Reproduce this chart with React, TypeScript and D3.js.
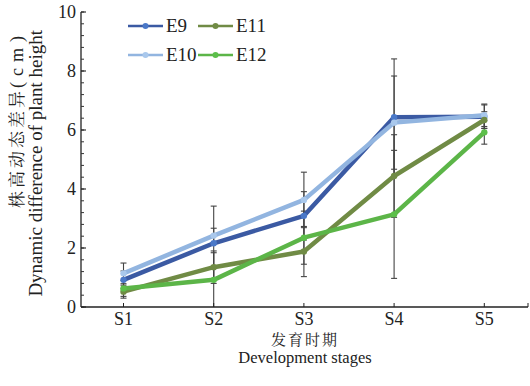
import React from "react";
import * as d3 from "d3";

const stages = ["S1", "S2", "S3", "S4", "S5"];
const seriesNames = ["E9", "E10", "E11", "E12"];
const e9 = [0.92, 2.16, 3.09, 6.43, 6.45];
const e10 = [1.14, 2.42, 3.63, 6.25, 6.5];
const e11 = [0.52, 1.35, 1.88, 4.44, 6.34];
const e12 = [0.63, 0.92, 2.35, 3.14, 5.92];
const e9Err = [0.3, 1.26, 0.82, 1.98, 0.4];
const e10Err = [0.35, 0.25, 0.94, 1.58, 0.38];
const e11Err = [0.22, 0.55, 0.85, 1.4, 0.28];
const e12Err = [0.27, 0.92, 0.9, 2.17, 0.4];
const yTicks = [0, 2, 4, 6, 8, 10];

const lineColors = ["#3b5aa3", "#92b5e0", "#708b45", "#5cb548"];
const markerColors = ["#4a78c8", "#a9c8ec", "#708b45", "#5cbf4a"];

const W = 530;
const H = 386;
const left = 81;
const right = 528;
const top = 12;
const bottom = 307;

const serifStyle = { fontFamily: "'Liberation Serif', 'Times New Roman', Times, serif" };
const cjkStyle = { fontFamily: "'Noto Serif CJK SC', 'Noto Sans CJK SC', sans-serif" };

export default function App() {
  const values = [e9, e10, e11, e12];
  const errs = [e9Err, e10Err, e11Err, e12Err];
  const x = d3.scaleLinear().domain([1, 5]).range([123.5, 484.3]);
  const y = d3.scaleLinear().domain([0, 10]).range([bottom, top]);
  const line = d3
    .line<number>()
    .x((_, i) => x(i + 1))
    .y((d) => y(d));
  const minor = d3.range(0, 10.001, 0.4);

  const legendPos = [
    { x: 128, y: 26 },
    { x: 128, y: 55 },
    { x: 198, y: 26 },
    { x: 198, y: 55 },
  ];

  return (
    <svg width={W} height={H} style={{ position: "absolute", left: 0, top: 0, background: "#fff" }}>
      {values.map((vals, si) =>
        vals.map((v, i) => {
          const cx = x(i + 1);
          const lo = Math.max(0, v - errs[si][i]);
          const hi = v + errs[si][i];
          return (
            <g key={`err-${si}-${i}`} stroke="#444" strokeWidth={1.1}>
              <line x1={cx} x2={cx} y1={y(lo)} y2={y(hi)} />
              <line x1={cx - 3} x2={cx + 3} y1={y(hi)} y2={y(hi)} />
              {lo > 0 && <line x1={cx - 3} x2={cx + 3} y1={y(lo)} y2={y(lo)} />}
            </g>
          );
        })
      )}
      {values.map((vals, si) => (
        <g key={`s-${si}`}>
          <path d={line(vals) || ""} fill="none" stroke={lineColors[si]} strokeWidth={4.5} strokeLinejoin="round" />
          {vals.map((v, i) => (
            <circle key={i} cx={x(i + 1)} cy={y(v)} r={3.2} fill={markerColors[si]} />
          ))}
        </g>
      ))}
      <line x1={left} x2={left} y1={top} y2={bottom} stroke="#222" strokeWidth={1.3} />
      <line x1={left} x2={right} y1={bottom} y2={bottom} stroke="#222" strokeWidth={1.3} />
      {minor.map((t, i) => (
        <line key={`mt-${i}`} x1={left} x2={left + 3} y1={y(t)} y2={y(t)} stroke="#333" strokeWidth={1} />
      ))}
      {yTicks.map((t) => (
        <g key={`yt-${t}`}>
          <line x1={left} x2={left + 5} y1={y(t)} y2={y(t)} stroke="#222" strokeWidth={1.1} />
          <text x={left - 5} y={y(t) + 6} textAnchor="end" style={serifStyle} fontSize={18} fill="#222">
            {t}
          </text>
        </g>
      ))}
      {stages.map((s, i) => (
        <g key={s}>
          <line x1={x(i + 1)} x2={x(i + 1)} y1={bottom} y2={bottom - 4} stroke="#222" strokeWidth={1} />
          <text x={x(i + 1)} y={bottom + 18} textAnchor="middle" style={serifStyle} fontSize={18} fill="#222">
            {s}
          </text>
        </g>
      ))}
      <line x1={right} x2={right} y1={bottom} y2={bottom - 4} stroke="#222" strokeWidth={1} />
      <text x={305} y={345} textAnchor="middle" style={cjkStyle} fontSize={15} letterSpacing={2} fill="#222">
        发育时期
      </text>
      <text x={305} y={363} textAnchor="middle" style={serifStyle} fontSize={16.5} fill="#222">
        Development stages
      </text>
      <text transform="translate(23,30) rotate(-90)" textAnchor="end" fill="#222">
        <tspan style={cjkStyle} fontSize={17} letterSpacing={3}>株高动态差异</tspan>
        <tspan style={serifStyle} fontSize={18} letterSpacing={6}>(cm)</tspan>
      </text>
      <text transform="translate(42,30) rotate(-90)" textAnchor="end" style={serifStyle} fontSize={19} fill="#222">
        Dynamic difference of plant height
      </text>
      {seriesNames.map((n, i) => (
        <g key={n}>
          <line x1={legendPos[i].x} x2={legendPos[i].x + 35} y1={legendPos[i].y} y2={legendPos[i].y} stroke={lineColors[i]} strokeWidth={2.5} />
          <circle cx={legendPos[i].x + 17.5} cy={legendPos[i].y} r={3} fill={markerColors[i]} />
          <text x={legendPos[i].x + 38} y={legendPos[i].y + 6} style={serifStyle} fontSize={19} fill="#222">
            {n}
          </text>
        </g>
      ))}
    </svg>
  );
}
